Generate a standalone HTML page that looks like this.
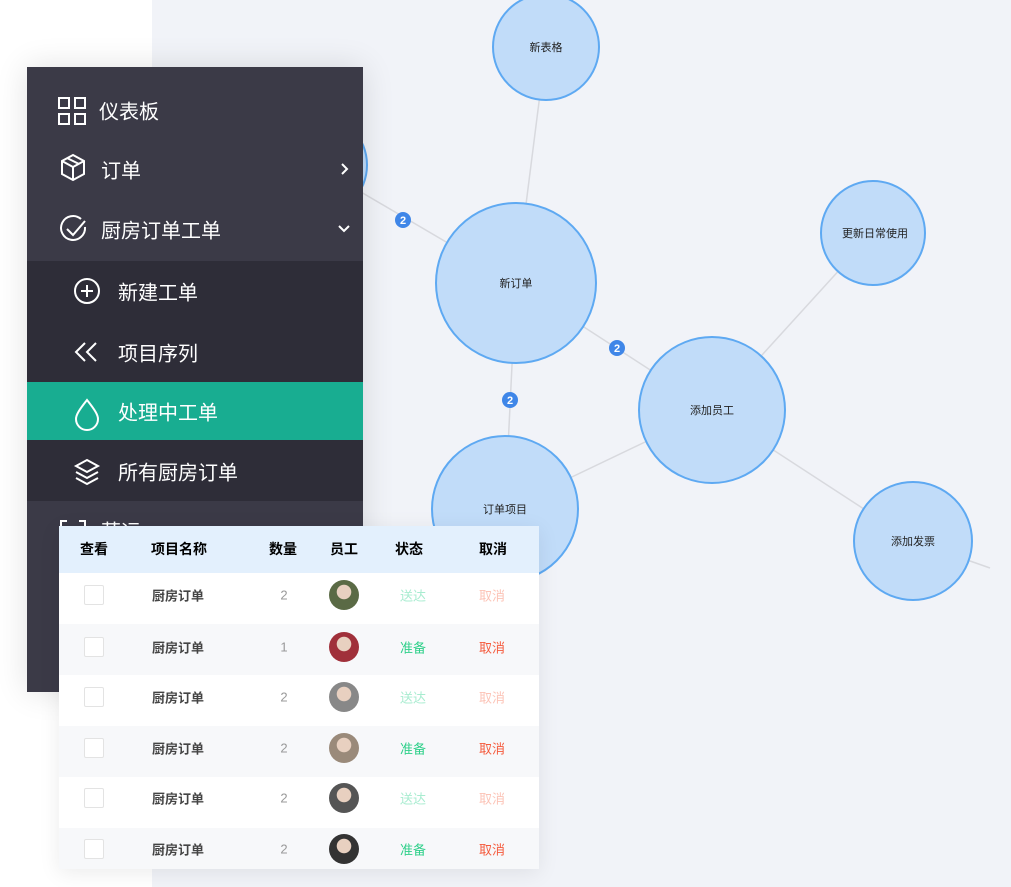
<!DOCTYPE html>
<html><head><meta charset="utf-8"><style>
*{margin:0;padding:0;box-sizing:border-box}
body{width:1011px;height:887px;overflow:hidden;position:relative;background:#fff;font-family:"Liberation Sans","Noto Sans CJK SC",sans-serif}
#bg{position:absolute;left:152px;top:0;width:859px;height:887px;background:#f1f3f8}
svg{position:absolute;left:0;top:0}
#side{position:absolute;left:27px;top:67px;width:336px;height:625px;background:#3b3a47;box-shadow:0 0 30px rgba(0,0,0,.12)}
.it{position:absolute;left:0;width:336px;color:#fff;font-size:20px;display:flex;align-items:center}
.it span{position:absolute;top:50%;transform:translateY(-50%)}
#sub{position:absolute;left:0;top:194px;width:336px;height:240px;background:#2e2d38}
#act{position:absolute;left:0;top:315px;width:336px;height:58px;background:#18ad91}
#tbl{position:absolute;left:59px;top:526px;width:480px;height:343px;background:#fff;box-shadow:0 4px 20px rgba(0,0,0,.08);overflow:hidden}
.hd{position:absolute;left:0;top:0;width:480px;height:47px;background:#e3f0fd}
.c{position:absolute;transform:translate(-50%,-50%);font-size:13px;white-space:nowrap}
.row{position:absolute;left:0;width:480px;height:51px}
.cb{position:absolute;width:20px;height:20px;border:1px solid #e3e3e3;border-radius:2px;background:#fff}
.av{position:absolute;width:30px;height:30px;border-radius:50%}
</style></head><body>
<div id="bg"></div>
<svg width="1011" height="887">
<g stroke="#d8d9de" stroke-width="1.5">
<line x1="546" y1="47" x2="516" y2="283"/>
<line x1="315" y1="165" x2="516" y2="283"/>
<line x1="516" y1="283" x2="712" y2="410"/>
<line x1="516" y1="283" x2="505" y2="509"/>
<line x1="712" y1="410" x2="505" y2="509"/>
<line x1="712" y1="410" x2="873" y2="233"/>
<line x1="712" y1="410" x2="913" y2="541"/>
<line x1="913" y1="541" x2="990" y2="568"/>
</g>
<g fill="#c1dcf9" stroke="#5ea9f2" stroke-width="2">
<circle cx="546" cy="47" r="53"/>
<circle cx="315" cy="165" r="52"/>
<circle cx="516" cy="283" r="80"/>
<circle cx="712" cy="410" r="73"/>
<circle cx="505" cy="509" r="73"/>
<circle cx="873" cy="233" r="52"/>
<circle cx="913" cy="541" r="59"/>
</g>
<g font-size="11" fill="#222" text-anchor="middle" font-family="Liberation Sans,Noto Sans CJK SC,sans-serif">
<text x="546" y="51">新表格</text>
<text x="516" y="287">新订单</text>
<text x="712" y="414">添加员工</text>
<text x="505" y="513">订单项目</text>
<text x="875" y="237">更新日常使用</text>
<text x="913" y="545">添加发票</text>
</g>
<g fill="#3f86e8"><circle cx="403" cy="220" r="8"/><circle cx="617" cy="348" r="8"/><circle cx="510" cy="400" r="8"/></g>
<g font-size="11" fill="#fff" font-weight="bold" text-anchor="middle" font-family="Liberation Sans,sans-serif">
<text x="403" y="224">2</text><text x="617" y="352">2</text><text x="510" y="404">2</text></g>
</svg>
<div id="side">
<div id="sub"></div><div id="act"></div>
<svg width="336" height="625" style="left:0;top:0">
<g fill="none" stroke="#fff" stroke-width="2">
<rect x="32" y="31" width="10" height="10"/><rect x="48" y="31" width="10" height="10"/><rect x="32" y="47" width="10" height="10"/><rect x="48" y="47" width="10" height="10"/>
<path d="M46 88 L57 94 L57 107 L46 113 L35 107 L35 94 Z M35 94 L46 100 L57 94 M46 100 L46 113 M40 91 L52 97"/>
<path d="M58 160 A12 12 0 1 1 54 152"/><path d="M40 162 L46 168 L58 154"/>
<path d="M315 97 L320 102 L315 107"/><path d="M312 159 L317 164 L322 159"/>
<circle cx="60" cy="224" r="12"/><path d="M60 218 V230 M54 224 H66"/>
<path d="M58 276 L49 285 L58 294 M69 276 L60 285 L69 294"/>
<path d="M60 333 C52 343 49 348 49 352 A11 11 0 0 0 71 352 C71 348 68 343 60 333Z"/>
<path d="M60 393 L71 399 L60 405 L49 399 Z M49 405 L60 411 L71 405 M49 411 L60 417 L71 411"/>
<path d="M34 464 V454 H40 M52 454 H58 V464"/>
</g></svg>
<div class="it" style="top:43px"><span style="left:72px">仪表板</span></div>
<div class="it" style="top:102px"><span style="left:74px">订单</span></div>
<div class="it" style="top:162px"><span style="left:74px">厨房订单工单</span></div>
<div class="it" style="top:224px"><span style="left:91px">新建工单</span></div>
<div class="it" style="top:285px"><span style="left:91px">项目序列</span></div>
<div class="it" style="top:344px"><span style="left:91px">处理中工单</span></div>
<div class="it" style="top:404px"><span style="left:91px">所有厨房订单</span></div>
<div class="it" style="top:463px"><span style="left:74px">营运</span></div>
</div>
<div id="tbl">
<div class="hd"></div>
<div class="c" style="left:35px;top:23px;font-weight:bold;font-size:14px">查看</div>
<div class="c" style="left:120px;top:23px;font-weight:bold;font-size:14px">项目名称</div>
<div class="c" style="left:224px;top:23px;font-weight:bold;font-size:14px">数量</div>
<div class="c" style="left:285px;top:23px;font-weight:bold;font-size:14px">员工</div>
<div class="c" style="left:350px;top:23px;font-weight:bold;font-size:14px">状态</div>
<div class="c" style="left:434px;top:23px;font-weight:bold;font-size:14px">取消</div>
<div class="row" style="top:47px;background:#fff"></div>
<div class="row" style="top:98px;background:#f7f8fa"></div>
<div class="row" style="top:149px;background:#fff"></div>
<div class="row" style="top:200px;background:#f7f8fa"></div>
<div class="row" style="top:251px;background:#fff"></div>
<div class="row" style="top:302px;background:#f7f8fa"></div>
</div>
<div id="rows"></div>
<script>
var ys=[595,647,697,748,798,849],q=[2,1,2,2,2,2],av=['#5a6a45','#a0303a','#888','#9a8a7a','#555','#333'],h='';
for(var i=0;i<6;i++){var y=ys[i],r=i%2==1;
h+='<div class="cb" style="left:84px;top:'+(y-10)+'px"></div>';
h+='<div class="c" style="left:178px;top:'+y+'px;color:#444;font-weight:bold">厨房订单</div>';
h+='<div class="c" style="left:284px;top:'+y+'px;color:#999">'+q[i]+'</div>';
h+='<div class="av" style="left:329px;top:'+(y-15)+'px;background:radial-gradient(circle at 50% 40%,#e8d0c0 0 30%,'+av[i]+' 32%)"></div>';
h+='<div class="c" style="left:413px;top:'+y+'px;color:'+(r?'#2fd08a':'#a8ecd0')+'">'+(r?'准备':'送达')+'</div>';
h+='<div class="c" style="left:492px;top:'+y+'px;color:'+(r?'#f55a3c':'#fcc3b6')+'">取消</div>';}
document.getElementById('rows').innerHTML=h;
</script>
</body></html>
